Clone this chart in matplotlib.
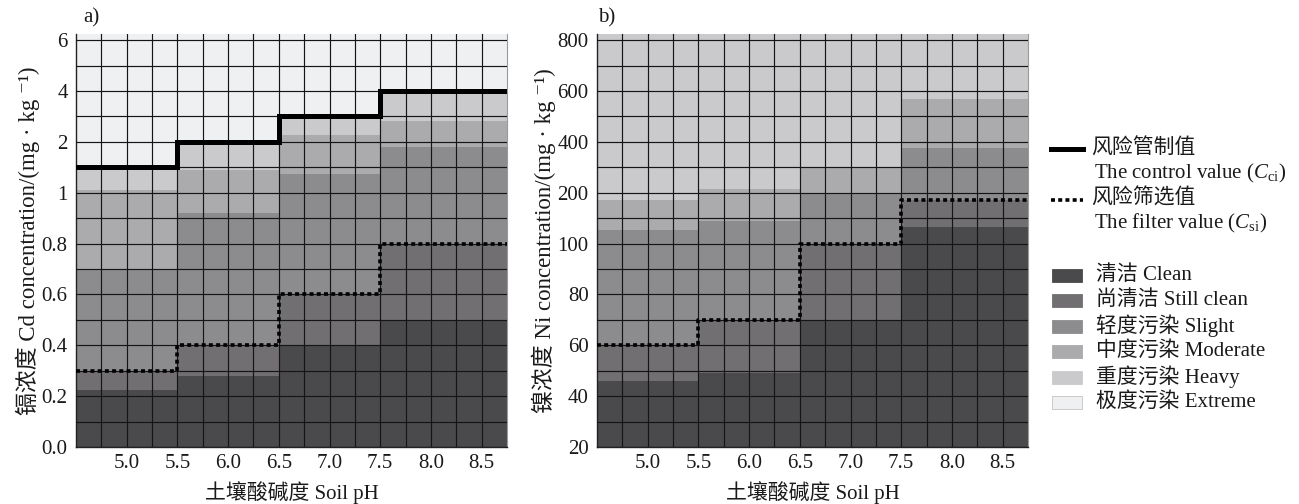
import numpy as np
import matplotlib
matplotlib.use('Agg')
import matplotlib.pyplot as plt
from matplotlib.lines import Line2D
from matplotlib.patches import Rectangle
from matplotlib.ticker import FixedLocator, FixedFormatter, NullFormatter

plt.rcParams['font.family'] = ['Liberation Serif', 'Noto Sans CJK SC', 'DejaVu Serif']
plt.rcParams['mathtext.fontset'] = 'custom'
plt.rcParams['mathtext.rm'] = 'Liberation Serif'
plt.rcParams['mathtext.it'] = 'Liberation Serif:italic'

# ---------------- data ----------------
ph_edges = [4.5, 5.5, 6.5, 7.5, 8.75]
ph_ticks = [5.0, 5.5, 6.0, 6.5, 7.0, 7.5, 8.0, 8.5]
ph_tick_labels = ['5.0', '5.5', '6.0', '6.5', '7.0', '7.5', '8.0', '8.5']
ph_grid = [4.75, 5.25, 5.75, 6.25, 6.75, 7.25, 7.75, 8.25]

class_names = ['清洁 Clean', '尚清洁 Still clean', '轻度污染 Slight',
               '中度污染 Moderate', '重度污染 Heavy', '极度污染 Extreme']
class_colors = ['#4a494b', '#726f73', '#8c8b8e', '#abaaad', '#cacacc', '#eff0f2']

# Cd (mg/kg): upper bound of each class per pH segment
cd_clean = [0.225, 0.28, 0.40, 0.50]
cd_still_clean = [0.30, 0.40, 0.60, 0.80]
cd_slight = [0.70, 0.92, 1.37, 1.90]
cd_moderate = [1.05, 1.45, 2.25, 2.80]
cd_heavy = [1.50, 2.00, 3.00, 4.00]
cd_filter = [0.3, 0.4, 0.6, 0.8]
cd_control = [1.5, 2.0, 3.0, 4.0]
cd_yticks = [0, 0.2, 0.4, 0.6, 0.8, 1, 2, 4, 6]
cd_ytick_labels = ['0.0', '0.2', '0.4', '0.6', '0.8', '1', '2', '4', '6']
cd_ygrid = [0.1, 0.3, 0.5, 0.7, 0.9, 1.5, 3, 5]
cd_ylim = (0, 6.24)

# Ni (mg/kg)
ni_clean = [46, 49, 70, 133]
ni_still_clean = [60, 70, 100, 186]
ni_slight = [126, 145, 200, 376]
ni_moderate = [186, 216, 300, 570]
ni_filter = [60, 70, 100, 186]
ni_yticks = [20, 40, 60, 80, 100, 200, 400, 600, 800]
ni_ytick_labels = ['20', '40', '60', '80', '100', '200', '400', '600', '800']
ni_ygrid = [30, 50, 70, 90, 150, 300, 500, 700]
ni_ylim = (20, 824)


def make_scale(ticks, below, above):
    knots = np.array([below] + list(ticks) + [above], dtype=float)
    units = np.arange(len(knots), dtype=float) - 1.0

    def fwd(v):
        return np.interp(v, knots, units)

    def inv(u):
        return np.interp(u, units, knots)
    return fwd, inv


fig = plt.figure(figsize=(12.99, 5.04), dpi=100)
W, H = 1299.0, 504.0
ax_bottom = 1 - 447 / H
ax_height = (447 - 34) / H
ax1 = fig.add_axes([76 / W, ax_bottom, 431 / W, ax_height])
ax2 = fig.add_axes([597 / W, ax_bottom, 431 / W, ax_height])

FS = 15
widths = np.diff(ph_edges)
lefts = ph_edges[:-1]


def draw_panel(ax, bounds, ylim, yticks, ylabels, ygrid, scale, filt, control, ylabel):
    ax.set_yscale('function', functions=scale)
    ax.set_xlim(ph_edges[0], ph_edges[-1])
    ax.set_ylim(*ylim)
    bottom = np.full(len(lefts), ylim[0], dtype=float)
    for k, top in enumerate(bounds):
        top = np.asarray(top, dtype=float)
        ax.bar(lefts, top - bottom, width=widths, bottom=bottom, align='edge',
               color=class_colors[k], linewidth=0, zorder=1)
        bottom = top
    if filt is not None:
        ax.step(ph_edges, list(filt) + [filt[-1]], where='post', color='black',
                lw=2.6, linestyle=(0, (1.1, 0.9)), zorder=4)
    if control is not None:
        ax.step(ph_edges, list(control) + [control[-1]], where='post', color='black',
                lw=3.6, solid_joinstyle='miter', zorder=5)
    ax.set_axisbelow(False)
    ax.xaxis.set_major_locator(FixedLocator(ph_ticks))
    ax.xaxis.set_major_formatter(FixedFormatter(ph_tick_labels))
    ax.xaxis.set_minor_locator(FixedLocator(ph_grid))
    ax.xaxis.set_minor_formatter(NullFormatter())
    ax.yaxis.set_major_locator(FixedLocator(yticks))
    ax.yaxis.set_major_formatter(FixedFormatter(ylabels))
    ax.yaxis.set_minor_locator(FixedLocator(ygrid))
    ax.yaxis.set_minor_formatter(NullFormatter())
    ax.grid(True, which='both', color='#151515', lw=0.85, zorder=2)
    ax.tick_params(which='both', length=0, labelsize=FS, colors='#1a1a1a')
    ax.tick_params(axis='y', pad=6)
    ax.tick_params(axis='x', pad=5)
    ax.spines['top'].set_visible(False)
    ax.spines['right'].set_color('#9a9a9a')
    ax.spines['right'].set_linewidth(0.8)
    for s in ['left', 'bottom']:
        ax.spines[s].set_color('#222222')
        ax.spines[s].set_linewidth(1.0)
    ax.set_xlabel('土壤酸碱度 Soil pH', fontsize=FS, labelpad=6, color='#1a1a1a')
    ax.set_ylabel(ylabel, fontsize=16.5, labelpad=1, color='#1a1a1a')


cd_bounds = [cd_clean, cd_still_clean, cd_slight, cd_moderate, cd_heavy,
             [cd_ylim[1]] * len(cd_heavy)]
draw_panel(ax1, cd_bounds, cd_ylim, cd_yticks, cd_ytick_labels, cd_ygrid,
           make_scale(cd_yticks, -0.2, 8.0), cd_filter, cd_control,
           '镉浓度 Cd concentration/(mg · kg ⁻¹)')

ni_bounds = [ni_clean, ni_still_clean, ni_slight, ni_moderate,
             [ni_ylim[1]] * len(ni_moderate)]
draw_panel(ax2, ni_bounds, ni_ylim, ni_yticks, ni_ytick_labels, ni_ygrid,
           make_scale(ni_yticks, 0, 1000), ni_filter, None,
           '镍浓度 Ni concentration/(mg · kg ⁻¹)')

fig.text(83 / W, 1 - 18 / H, 'a)', fontsize=FS, va='center', ha='left', color='#1a1a1a')
fig.text(598 / W, 1 - 18 / H, 'b)', fontsize=FS, va='center', ha='left', color='#1a1a1a')

# ---------------- legend ----------------
LFS = 15
def fy(py):
    return 1 - py / H

fig.add_artist(Line2D([1051 / W, 1083 / W], [fy(148.5)] * 2, color='black', lw=3.6,
                      transform=fig.transFigure))
fig.text(1091 / W, fy(149), '风险管制值', fontsize=LFS, va='center', ha='left', color='#1a1a1a')
fig.text(1094 / W, fy(173), r'The control value ($C_{\rm ci}$)', fontsize=LFS,
         va='center', ha='left', color='#1a1a1a')
fig.add_artist(Line2D([1051 / W, 1083 / W], [fy(200)] * 2, color='black', lw=2.6,
                      linestyle=(0, (1.1, 0.9)), transform=fig.transFigure))
fig.text(1091 / W, fy(199), '风险筛选值', fontsize=LFS, va='center', ha='left', color='#1a1a1a')
fig.text(1094 / W, fy(223), r'The filter value ($C_{\rm si}$)', fontsize=LFS,
         va='center', ha='left', color='#1a1a1a')

for i, (name, col) in enumerate(zip(class_names, class_colors)):
    cy = 275 + 25.5 * i
    fig.add_artist(Rectangle((1052 / W, fy(cy + 6.5)), 30 / W, 13 / H,
                             facecolor=col, edgecolor='#c4c4c4' if i == 5 else col,
                             lw=0.6, transform=fig.transFigure))
    fig.text(1096 / W, fy(cy), name, fontsize=LFS, va='center', ha='left', color='#1a1a1a')

fig.savefig('out.png', dpi=100)
